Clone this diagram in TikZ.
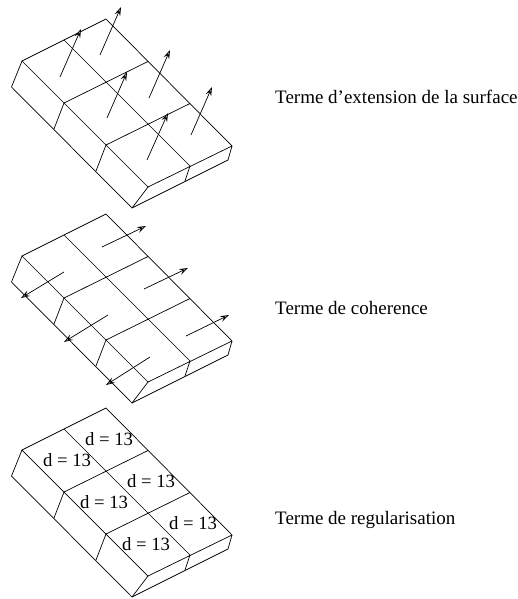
\documentclass[tikz,border=0pt]{standalone}
\usepackage{fontspec}
\setmainfont{Liberation Serif}
\usepackage{tikz}
\usetikzlibrary{arrows.meta}

\tikzset{
  slab/.pic={
    \draw[edge] (22,-61) -- (106,-19) -- (232,-146) -- (148,-187) -- cycle;
    \draw[edge] (64,-40) -- (190,-166);
    \draw[edge] (64,-103) -- (148,-61.5);
    \draw[edge] (106,-145) -- (190,-103.5);
    \draw[edge] (22,-61) -- (11.5,-87) -- (132,-208) -- (228,-160) -- (232,-146);
    \draw[edge] (148,-187) -- (132,-208);
    \draw[edge] (190,-166) -- (185,-181);
    \draw[edge] (64,-103) -- (54,-129);
    \draw[edge] (106,-145) -- (96,-171);
  }
}

\begin{document}
\begin{tikzpicture}[x=1pt, y=1pt,
  edge/.style={line width=0.7pt, line join=miter},
  vec/.style={-{Stealth[length=9pt, width=6pt, inset=3.5pt, fill=gray!60]}, line width=0.7pt},
  lab/.style={font=\fontsize{19}{22}\selectfont, anchor=base west, inner sep=0pt},
  val/.style={font=\fontsize{18.7}{22}\selectfont, inner sep=0pt}
]
  \useasboundingbox (0,0) rectangle (518,-599);

  % first slab
  \pic at (0,0) {slab};
  \coordinate (a1) at (60,-77);   \coordinate (b1) at (81,-29);
  \coordinate (a2) at (100,-55);  \coordinate (b2) at (121,-7);
  \coordinate (a3) at (107,-118); \coordinate (b3) at (127,-72);
  \coordinate (a4) at (149,-98);  \coordinate (b4) at (170,-50);
  \coordinate (a5) at (147,-160); \coordinate (b5) at (168,-113);
  \coordinate (a6) at (191,-135); \coordinate (b6) at (212,-87);
  \foreach \i in {1,...,6}
    \draw[vec] (a\i) -- (b\i);
  \node[lab] (ext) at (275,-103) {Terme d’extension de la surface};

  % second slab
  \pic at (0,-195) {slab};
  \coordinate (c1) at (102,-247);  \coordinate (d1) at (146,-226);
  \coordinate (c2) at (144,-289);  \coordinate (d2) at (188,-268);
  \coordinate (c3) at (186,-336);  \coordinate (d3) at (229,-315);
  \coordinate (c4) at (64,-272);   \coordinate (d4) at (21,-298);
  \coordinate (c5) at (108,-315);  \coordinate (d5) at (64,-342);
  \coordinate (c6) at (150,-357);  \coordinate (d6) at (106,-385);
  \foreach \i in {1,...,6}
    \draw[vec] (c\i) -- (d\i);
  \node[lab] (coh) at (275,-314) {Terme de coherence};

  % third slab
  \pic at (0,-389) {slab};
  \node[val] (v1) at (67,-460) {d = 13};
  \node[val] (v2) at (109,-439) {d = 13};
  \node[val] (v3) at (104,-502) {d = 13};
  \node[val] (v4) at (151,-481) {d = 13};
  \node[val] (v5) at (146,-544) {d = 13};
  \node[val] (v6) at (193,-523) {d = 13};
  \node[lab] (reg) at (275,-524) {Terme de regularisation};
\end{tikzpicture}
\end{document}
